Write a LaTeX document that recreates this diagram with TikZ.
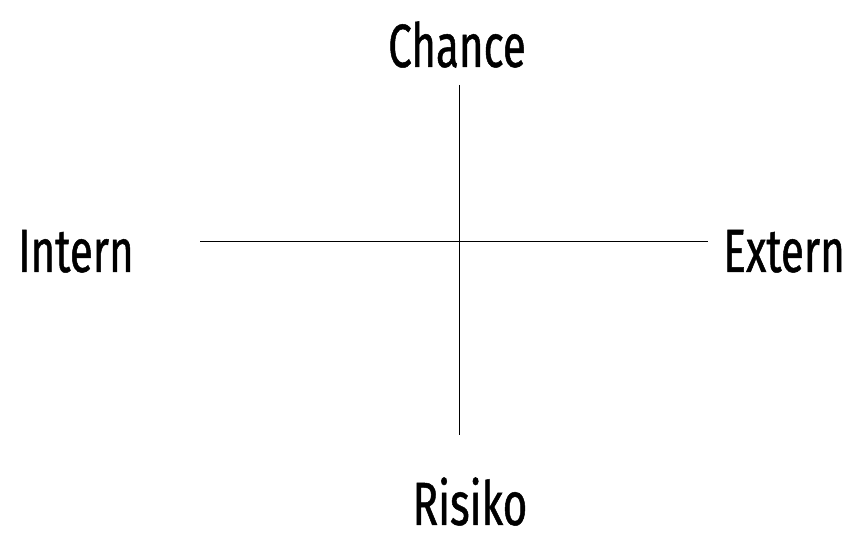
\documentclass[tikz,border=0pt]{standalone}
\usepackage{fontspec}
\setmainfont[FakeStretch=0.69, FakeBold=0.8]{Fira Sans}
\usetikzlibrary{positioning}

\begin{document}
\begin{tikzpicture}[x=1pt, y=1pt,
    axis/.style={line width=1pt, black},
    pole/.style={font=\fontsize{61}{61}\selectfont, inner sep=0pt}
]
\useasboundingbox (0,0) rectangle (850,534);
% --- Achsenenden ---
\coordinate (top) at (459,449);
\coordinate (bot) at (459,99);
\coordinate (lft) at (200,292);
\coordinate (rgt) at (708,292);

% --- Achsen ---
\draw[axis] (top) -- (bot);
\draw[axis] (lft) -- (rgt);

% --- Beschriftungen ---
\node[pole, anchor=base] (chance) at (457,467) {Chance};
\node[pole, anchor=base] (risiko) at (470,9) {Risiko};
\node[pole, anchor=base west] (intern) at (18,262) {Intern};
\node[pole, anchor=base east] (extern) at (845,262) {Extern};
\end{tikzpicture}
\end{document}
